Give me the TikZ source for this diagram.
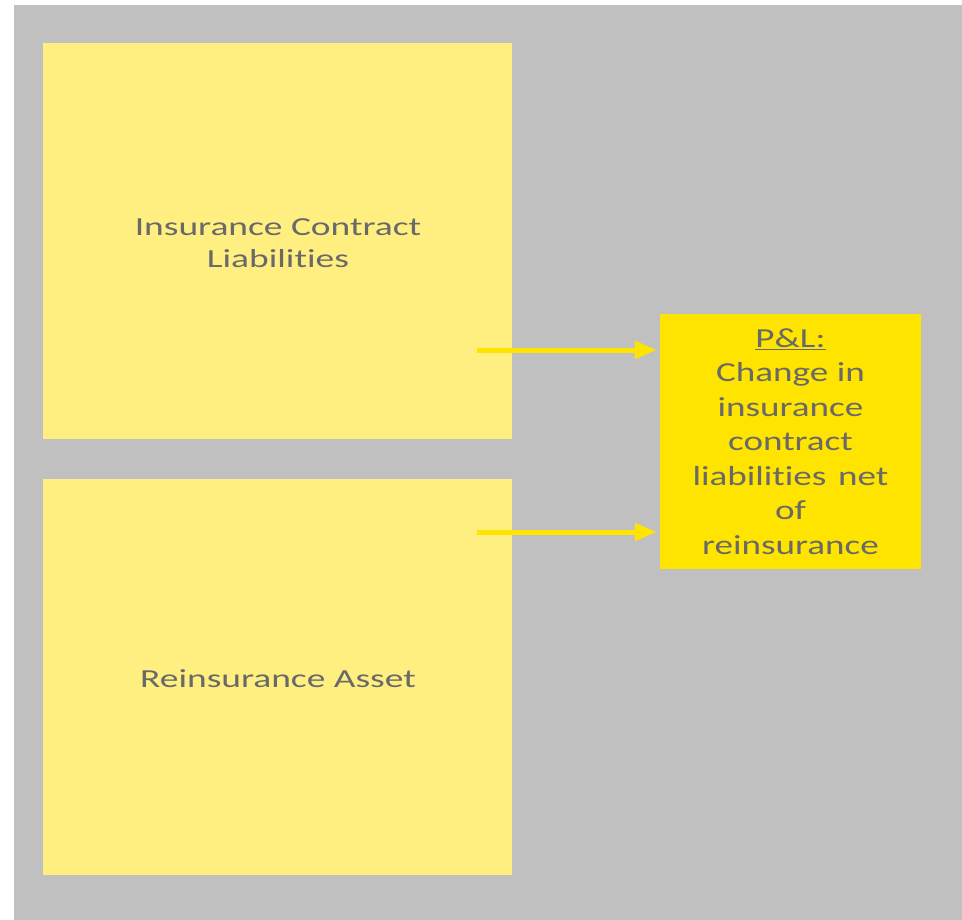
\documentclass[tikz,border=0pt]{standalone}
\usepackage{fontspec}
\setmainfont{Carlito}[Ligatures=NoCommon]
\newfontfamily\widefont{Carlito}[Ligatures=NoCommon,FakeStretch=1.44]
\newfontfamily\plfont{Carlito}[Ligatures=NoCommon,FakeStretch=1.35]
\usetikzlibrary{arrows.meta}
\definecolor{bggray}{RGB}{192,192,192}
\definecolor{paleyellow}{RGB}{255,239,128}
\definecolor{brightyellow}{RGB}{255,228,0}
\definecolor{textgray}{RGB}{105,105,105}
\begin{document}
\begin{tikzpicture}[x=1pt,y=-1pt,
  block/.style={fill=paleyellow, draw=none, inner sep=0pt,
    minimum width=469pt, minimum height=396pt},
  blocklabel/.style={text=textgray, align=center,
    font=\widefont\fontsize{26}{32}\selectfont, inner sep=0pt},
  plbox/.style={fill=brightyellow, draw=none, text=textgray, align=center,
    font=\plfont\fontsize{27.5}{34.5}\selectfont, inner sep=0pt},
  flow/.style={draw=brightyellow, line width=5pt,
    -{Triangle[length=22pt,width=17pt]}, shorten >=3pt}]
  % canvas and backdrop
  \useasboundingbox (0,0) rectangle (962,920);
  \fill[white] (0,0) rectangle (962,920);
  \fill[bggray] (14,5) rectangle (962,920);
  % balance sheet items
  \node[block] (icl) at (277.5,241) {};
  \node[blocklabel] (icltext) at (278,243) {Insurance Contract\\Liabilities};
  \node[block] (ra) at (277.5,677) {};
  \node[blocklabel] (ratext) at (278,679) {Reinsurance Asset};
  % profit and loss item
  \node[plbox, minimum width=261pt, minimum height=255pt] (pl) at (790.5,441.5)
    {\underline{P\&L:}\\Change in\\insurance\\contract\\liabilities\hspace{0.12em} net\\of\\reinsurance};
  % arrow start points
  \coordinate (s1) at (477,350);
  \coordinate (s2) at (477,532);
  \draw[flow] (s1) -- (s1 -| pl.west);
  \draw[flow] (s2) -- (s2 -| pl.west);
\end{tikzpicture}
\end{document}
